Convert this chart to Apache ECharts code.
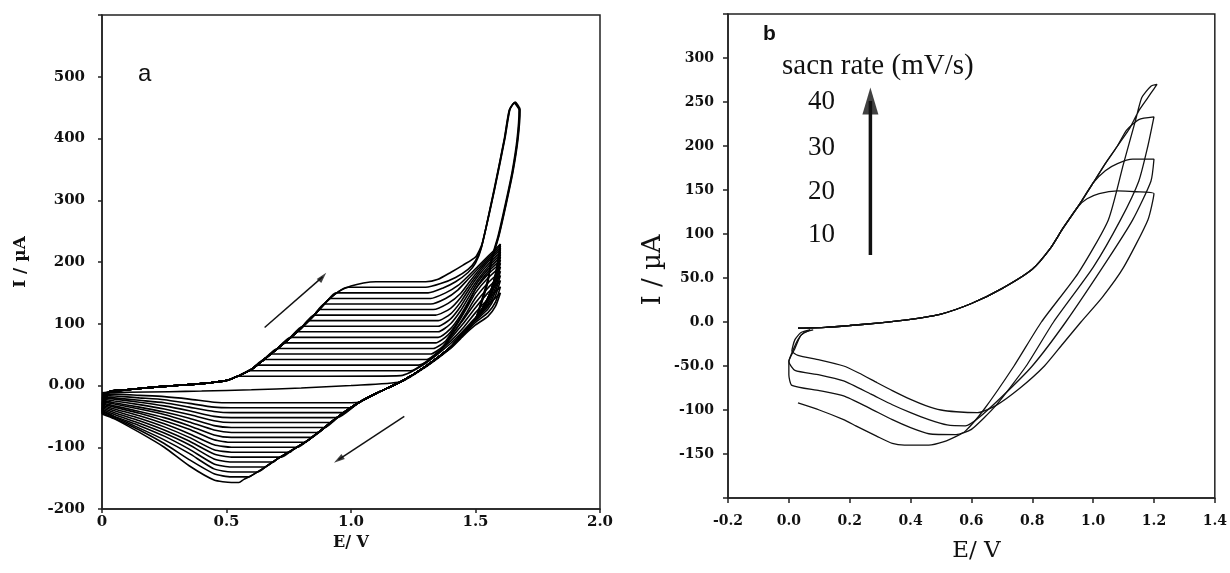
<!DOCTYPE html>
<html>
<head>
<meta charset="utf-8">
<script src="https://cdn.jsdelivr.net/npm/echarts@6/dist/echarts.min.js"></script>
<style>
  html, body { margin: 0; padding: 0; background: #fff; }
  #chart { width: 1230px; height: 573px; }
</style>
</head>
<body>
<div id="chart"></div>
<script>
// ---------------- panel a : repeated cycles, [E (V), I (uA)] ----------------
const a1 = [[0,-12],[0.03,-10],[0.1,-7],[0.2,-3],[0.3,0],[0.4,3],[0.5,8],[0.545,15],[0.9,15],[1.2,16],[1.3,36],[1.4,68],[1.45,88],[1.5,110],[1.55,130],[1.6,150],[1.58,128],[1.55,112],[1.5,98],[1.45,80],[1.4,60],[1.3,30],[1.2,6],[1.0,0],[0.8,-4],[0.6,-7],[0.4,-9],[0.27,-10],[0.1,-11],[0,-12]];
const a2 = [[0,-14],[0.03,-10],[0.1,-7],[0.2,-3],[0.3,0],[0.4,3],[0.5,8],[0.55,16],[0.59,24],[0.95,24],[1.24,24],[1.3,38],[1.4,72],[1.45,93],[1.5,118],[1.55,140],[1.6,160],[1.58,135],[1.55,118],[1.5,102],[1.45,82],[1.4,61],[1.3,31],[1.2,6],[1.1,-13],[1.04,-26],[1.0,-28],[0.52,-28],[0.45,-27],[0.35,-22],[0.25,-18],[0.15,-16],[0.05,-14],[0,-14]];
const a3 = [[0,-16],[0.03,-10],[0.1,-7],[0.2,-3],[0.3,0],[0.4,3],[0.5,8],[0.55,16],[0.6,26],[0.62,33],[1.27,33],[1.35,52],[1.4,76],[1.45,100],[1.5,126],[1.55,150],[1.6,170],[1.58,145],[1.55,124],[1.5,105],[1.45,84],[1.4,62],[1.3,31],[1.2,6],[1.1,-13],[1.03,-28],[1.0,-36],[0.52,-36],[0.45,-35],[0.35,-29],[0.25,-23],[0.15,-20],[0.05,-17],[0,-16]];
const a4 = [[0,-18],[0.03,-10],[0.1,-7],[0.2,-3],[0.3,0],[0.4,3],[0.5,8],[0.55,16],[0.6,26],[0.65,42],[1.3,42],[1.36,58],[1.4,80],[1.45,106],[1.5,134],[1.55,158],[1.6,178],[1.58,152],[1.55,128],[1.5,107],[1.45,85],[1.4,62],[1.3,31],[1.2,6],[1.1,-13],[1.03,-28],[0.97,-44],[0.52,-44],[0.45,-42],[0.35,-35],[0.25,-28],[0.15,-24],[0.05,-20],[0,-18]];
const a5 = [[0,-20],[0.03,-10],[0.1,-7],[0.2,-3],[0.3,0],[0.4,3],[0.5,8],[0.55,16],[0.6,26],[0.65,42],[0.678,51],[1.32,51],[1.37,64],[1.42,90],[1.46,115],[1.5,142],[1.55,166],[1.6,185],[1.58,158],[1.55,132],[1.5,108],[1.45,85],[1.4,62],[1.3,31],[1.2,6],[1.1,-13],[1.03,-28],[0.945,-52],[0.52,-52],[0.45,-50],[0.35,-41],[0.25,-33],[0.15,-27],[0.05,-22],[0,-20]];
const a6 = [[0,-22],[0.03,-10],[0.1,-7],[0.2,-3],[0.3,0],[0.4,3],[0.5,8],[0.55,16],[0.6,26],[0.65,42],[0.705,60],[1.33,60],[1.38,72],[1.42,95],[1.46,122],[1.5,150],[1.55,174],[1.6,192],[1.58,164],[1.55,136],[1.5,108],[1.45,85],[1.4,62],[1.3,31],[1.2,6],[1.1,-13],[1.03,-28],[0.95,-50],[0.92,-60],[0.52,-60],[0.45,-57],[0.35,-47],[0.25,-38],[0.15,-31],[0.05,-25],[0,-22]];
const a7 = [[0,-24],[0.03,-10],[0.1,-7],[0.2,-3],[0.3,0],[0.4,3],[0.5,8],[0.55,16],[0.6,26],[0.65,42],[0.7,58],[0.732,69],[1.34,69],[1.39,82],[1.43,104],[1.47,132],[1.5,156],[1.55,180],[1.6,198],[1.58,168],[1.55,138],[1.5,108],[1.45,85],[1.4,62],[1.3,31],[1.2,6],[1.1,-13],[1.03,-28],[0.95,-50],[0.895,-68],[0.52,-68],[0.45,-65],[0.35,-53],[0.25,-43],[0.15,-35],[0.05,-28],[0,-24]];
const a8 = [[0,-26],[0.03,-10],[0.1,-7],[0.2,-3],[0.3,0],[0.4,3],[0.5,8],[0.55,16],[0.6,26],[0.65,42],[0.7,58],[0.758,78],[1.35,78],[1.4,92],[1.44,114],[1.48,142],[1.51,163],[1.55,184],[1.6,203],[1.58,171],[1.55,140],[1.5,108],[1.45,85],[1.4,62],[1.3,31],[1.2,6],[1.1,-13],[1.03,-28],[0.95,-50],[0.9,-66],[0.87,-76],[0.52,-76],[0.45,-72],[0.35,-59],[0.25,-47],[0.15,-38],[0.05,-30],[0,-26]];
const a9 = [[0,-28],[0.03,-10],[0.1,-7],[0.2,-3],[0.3,0],[0.4,3],[0.5,8],[0.55,16],[0.6,26],[0.65,42],[0.7,58],[0.75,75],[0.785,87],[1.35,87],[1.4,100],[1.44,121],[1.48,148],[1.51,168],[1.55,188],[1.6,208],[1.58,173],[1.55,140],[1.5,108],[1.45,85],[1.4,62],[1.3,31],[1.2,6],[1.1,-13],[1.03,-28],[0.95,-50],[0.9,-66],[0.84,-84],[0.52,-84],[0.45,-80],[0.35,-65],[0.25,-52],[0.15,-42],[0.05,-33],[0,-28]];
const a10 = [[0,-30],[0.03,-10],[0.1,-7],[0.2,-3],[0.3,0],[0.4,3],[0.5,8],[0.55,16],[0.6,26],[0.65,42],[0.7,58],[0.75,75],[0.807,96],[1.35,96],[1.4,108],[1.44,128],[1.48,154],[1.51,172],[1.55,192],[1.6,212],[1.58,175],[1.55,140],[1.5,108],[1.45,85],[1.4,62],[1.3,31],[1.2,6],[1.1,-13],[1.03,-28],[0.95,-50],[0.9,-66],[0.83,-88],[0.815,-92],[0.52,-92],[0.45,-88],[0.35,-71],[0.25,-57],[0.15,-45],[0.05,-35],[0,-30]];
const a11 = [[0,-32],[0.03,-10],[0.1,-7],[0.2,-3],[0.3,0],[0.4,3],[0.5,8],[0.55,16],[0.6,26],[0.65,42],[0.7,58],[0.75,75],[0.8,93],[0.83,105],[1.35,105],[1.4,116],[1.44,135],[1.48,160],[1.51,177],[1.55,196],[1.6,216],[1.58,176],[1.55,141],[1.5,108],[1.45,85],[1.4,62],[1.3,31],[1.2,6],[1.1,-13],[1.03,-28],[0.95,-50],[0.9,-66],[0.83,-88],[0.785,-100],[0.52,-100],[0.45,-96],[0.35,-78],[0.25,-62],[0.15,-49],[0.05,-38],[0,-32]];
const a12 = [[0,-34],[0.03,-10],[0.1,-7],[0.2,-3],[0.3,0],[0.4,3],[0.5,8],[0.55,16],[0.6,26],[0.65,42],[0.7,58],[0.75,75],[0.8,93],[0.853,114],[1.34,114],[1.4,125],[1.44,142],[1.48,165],[1.51,181],[1.55,200],[1.6,220],[1.58,177],[1.55,141],[1.5,108],[1.45,85],[1.4,62],[1.3,31],[1.2,6],[1.1,-13],[1.03,-28],[0.95,-50],[0.9,-66],[0.83,-88],[0.77,-103],[0.755,-108],[0.52,-108],[0.45,-104],[0.35,-84],[0.25,-67],[0.15,-53],[0.05,-41],[0,-34]];
const a13 = [[0,-36],[0.03,-10],[0.1,-7],[0.2,-3],[0.3,0],[0.4,3],[0.5,8],[0.55,16],[0.6,26],[0.65,42],[0.7,58],[0.75,75],[0.8,93],[0.85,113],[0.873,123],[1.33,123],[1.39,133],[1.44,149],[1.48,170],[1.51,185],[1.55,203],[1.6,223],[1.58,178],[1.55,142],[1.5,108],[1.45,85],[1.4,62],[1.3,31],[1.2,6],[1.1,-13],[1.03,-28],[0.95,-50],[0.9,-66],[0.83,-88],[0.77,-103],[0.72,-116],[0.52,-116],[0.45,-111],[0.35,-90],[0.25,-72],[0.15,-57],[0.05,-44],[0,-36]];
const a14 = [[0,-38],[0.03,-10],[0.1,-7],[0.2,-3],[0.3,0],[0.4,3],[0.5,8],[0.55,16],[0.6,26],[0.65,42],[0.7,58],[0.75,75],[0.8,93],[0.85,113],[0.893,132],[1.32,132],[1.38,141],[1.43,155],[1.47,172],[1.51,189],[1.55,206],[1.6,226],[1.58,179],[1.55,142],[1.5,108],[1.45,85],[1.4,62],[1.3,31],[1.2,6],[1.1,-13],[1.03,-28],[0.95,-50],[0.9,-66],[0.83,-88],[0.77,-103],[0.7,-120],[0.69,-124],[0.52,-124],[0.45,-119],[0.35,-96],[0.25,-77],[0.15,-61],[0.05,-47],[0,-38]];
const a15 = [[0,-40],[0.03,-10],[0.1,-7],[0.2,-3],[0.3,0],[0.4,3],[0.5,8],[0.55,16],[0.6,26],[0.65,42],[0.7,58],[0.75,75],[0.8,93],[0.85,113],[0.9,135],[0.915,141],[1.32,141],[1.38,150],[1.43,162],[1.47,177],[1.51,193],[1.55,209],[1.6,229],[1.58,180],[1.55,142],[1.5,108],[1.45,85],[1.4,62],[1.3,31],[1.2,6],[1.1,-13],[1.03,-28],[0.95,-50],[0.9,-66],[0.83,-88],[0.77,-103],[0.7,-120],[0.66,-131],[0.655,-132],[0.52,-132],[0.45,-127],[0.35,-103],[0.25,-82],[0.15,-65],[0.05,-50],[0,-40]];
const a16 = [[0,-42],[0.03,-10],[0.1,-7],[0.2,-3],[0.3,0],[0.4,3],[0.5,8],[0.55,16],[0.6,26],[0.65,42],[0.7,58],[0.75,75],[0.8,93],[0.85,113],[0.9,135],[0.94,150],[1.31,150],[1.37,158],[1.42,168],[1.47,183],[1.5,198],[1.523,222],[1.575,318],[1.615,398],[1.635,445],[1.655,457],[1.675,446],[1.667,399],[1.647,346],[1.62,294],[1.59,241],[1.563,204],[1.55,168],[1.52,128],[1.5,108],[1.45,85],[1.4,62],[1.3,31],[1.2,6],[1.1,-13],[1.03,-28],[0.95,-50],[0.9,-66],[0.83,-88],[0.77,-103],[0.7,-120],[0.66,-131],[0.625,-140],[0.52,-140],[0.45,-135],[0.35,-110],[0.25,-88],[0.15,-69],[0.05,-51],[0,-42]];
const a17 = [[0,-44],[0.03,-10],[0.1,-7],[0.2,-3],[0.3,0],[0.4,3],[0.5,8],[0.55,16],[0.6,26],[0.65,42],[0.7,58],[0.75,75],[0.8,93],[0.85,113],[0.9,135],[0.95,152],[0.988,159],[1.3,159],[1.36,165],[1.42,175],[1.47,188],[1.5,202],[1.525,226],[1.577,320],[1.617,400],[1.637,447],[1.657,458],[1.677,446],[1.669,399],[1.649,346],[1.622,294],[1.592,241],[1.565,204],[1.55,170],[1.52,130],[1.5,108],[1.45,85],[1.4,62],[1.3,31],[1.2,6],[1.1,-13],[1.03,-28],[0.95,-50],[0.9,-66],[0.83,-88],[0.77,-103],[0.7,-120],[0.66,-131],[0.6,-146],[0.59,-148],[0.52,-148],[0.45,-143],[0.35,-120],[0.25,-94],[0.15,-72],[0.05,-53],[0,-44]];
const a18 = [[0,-46],[0.03,-10],[0.1,-7],[0.2,-3],[0.3,0],[0.4,3],[0.5,8],[0.55,16],[0.6,26],[0.65,42],[0.7,58],[0.75,75],[0.8,93],[0.85,113],[0.9,135],[0.95,152],[1.0,161],[1.05,166],[1.1,168],[1.3,168],[1.35,172],[1.4,183],[1.45,195],[1.5,208],[1.527,230],[1.579,322],[1.619,402],[1.639,448],[1.659,459],[1.679,447],[1.671,400],[1.651,347],[1.624,295],[1.594,242],[1.567,205],[1.55,172],[1.52,132],[1.5,108],[1.45,85],[1.4,62],[1.3,31],[1.2,6],[1.1,-13],[1.03,-28],[0.95,-50],[0.9,-66],[0.83,-88],[0.77,-103],[0.7,-120],[0.66,-131],[0.6,-146],[0.57,-152],[0.55,-157],[0.52,-157],[0.45,-153],[0.35,-130],[0.25,-100],[0.15,-76],[0.05,-54],[0,-46]];
const cyclesA = [a1, a2, a3, a4, a5, a6, a7, a8, a9, a10, a11, a12, a13, a14, a15, a16, a17, a18];

// scan direction arrows of panel a, [from, to]
const arrowUpA = [[0.653, 94], [0.886, 176]];
const arrowDownA = [[1.214, -50], [0.95, -120]];

// ---------------- panel b : scan rates 10..40 mV/s ----------------
const b10 = [[0.03,-7],[0.12,-6],[0.2,-4],[0.3,-1],[0.4,3],[0.5,9],[0.6,21],[0.7,38],[0.8,60],[0.86,84],[0.9,106],[0.95,131],[0.98,140],[1.02,146],[1.08,149],[1.14,148],[1.2,146],[1.18,116],[1.1,62],[1.03,28],[0.96,0],[0.9,-25],[0.84,-50],[0.76,-75],[0.68,-95],[0.62,-103],[0.55,-102],[0.5,-100],[0.45,-95],[0.4,-88],[0.34,-78],[0.29,-69],[0.23,-58],[0.18,-50],[0.1,-43],[0.03,-38],[0.01,-33],[0.02,-20],[0.04,-12],[0.07,-9]];
const b20 = [[0.03,-7],[0.12,-6],[0.2,-4],[0.3,-1],[0.4,3],[0.5,9],[0.6,21],[0.7,38],[0.8,60],[0.86,84],[0.9,106],[0.95,131],[1.0,158],[1.04,172],[1.08,180],[1.13,185],[1.2,185],[1.19,160],[1.13,116],[1.05,72],[0.91,0],[0.8,-50],[0.7,-85],[0.62,-110],[0.58,-118],[0.52,-117],[0.46,-111],[0.4,-103],[0.34,-94],[0.27,-82],[0.18,-67],[0.1,-60],[0.02,-55],[0.0,-45],[0.01,-35],[0.03,-20],[0.05,-12],[0.08,-9]];
const b30 = [[0.03,-7],[0.12,-6],[0.2,-4],[0.3,-1],[0.4,3],[0.5,9],[0.6,21],[0.7,38],[0.8,60],[0.86,84],[0.9,106],[0.95,131],[1.0,158],[1.04,180],[1.08,200],[1.11,218],[1.15,230],[1.2,233],[1.18,200],[1.15,160],[1.09,116],[1.0,62],[0.87,0],[0.78,-50],[0.68,-95],[0.6,-122],[0.55,-128],[0.46,-127],[0.4,-120],[0.34,-111],[0.26,-97],[0.18,-84],[0.1,-78],[0.01,-72],[0.0,-60],[0.0,-45],[0.02,-30],[0.04,-15],[0.07,-9]];
const b40 = [[0.03,-7],[0.12,-6],[0.2,-4],[0.3,-1],[0.4,3],[0.5,9],[0.6,21],[0.7,38],[0.8,60],[0.86,84],[0.9,106],[0.95,131],[1.0,158],[1.04,180],[1.08,200],[1.12,220],[1.15,240],[1.18,255],[1.2,265],[1.21,270],[1.19,268],[1.16,255],[1.14,230],[1.1,180],[1.05,116],[0.95,55],[0.83,0],[0.74,-50],[0.64,-100],[0.58,-124],[0.55,-130],[0.51,-136],[0.46,-140],[0.38,-140],[0.34,-138],[0.29,-130],[0.22,-118],[0.18,-111],[0.1,-100],[0.03,-92]];
const cyclesB = [b10, b20, b30, b40];
const rateLabels = ['40', '30', '20', '10'];
const arrowB = [[0.268, 76], [0.268, 251]];

// tick labels
const xTicksA = ['0', '0.5', '1.0', '1.5', '2.0'];
const serif = '"Liberation Serif", "DejaVu Serif", serif';
const wideSerif = '"DejaVu Serif", serif';

let chart = echarts.init(document.getElementById('chart'));

let series = [];
cyclesA.forEach(function (c) {
	series.push({
		type: 'line', xAxisIndex: 0, yAxisIndex: 0, data: c,
		symbol: 'none', smooth: 0.2, silent: true,
		lineStyle: { color: '#000', width: 1.6 }
	});
});
cyclesB.forEach(function (c) {
	series.push({
		type: 'line', xAxisIndex: 1, yAxisIndex: 1, data: c,
		symbol: 'none', smooth: 0.2, silent: true,
		lineStyle: { color: '#111', width: 1.3 }
	});
});

// arrows: a line series of two points plus a rotated head at the end point
function arrowSeries(xi, pair, width, head, rot) {
	return [{
		type: 'line', xAxisIndex: xi, yAxisIndex: xi, data: pair,
		symbol: 'none', silent: true, lineStyle: { color: '#111', width: width }
	}, {
		type: 'scatter', xAxisIndex: xi, yAxisIndex: xi, data: [pair[1]],
		symbol: 'triangle', symbolSize: head, symbolRotate: rot, silent: true,
		itemStyle: { color: '#111' }
	}];
}
series = series.concat(arrowSeries(0, arrowUpA, 1.5, [6, 11], -41));
series = series.concat(arrowSeries(0, arrowDownA, 1.5, [6, 11], 124));
series = series.concat(arrowSeries(1, arrowB, 3.5, [16, 27], 0));

let axisLineStyle = { color: '#222', width: 1.5 };

let option = {
	animation: false,
	backgroundColor: '#fff',
	grid: [
		{ left: 102, right: 630, top: 15, bottom: 64, show: true, borderColor: '#222', borderWidth: 1.5 },
		{ left: 728, right: 14, top: 14, bottom: 75, show: true, borderColor: '#222', borderWidth: 1.5 }
	],
	xAxis: [{
		type: 'value', gridIndex: 0, min: 0, max: 2, interval: 0.5,
		name: 'E/ V', nameLocation: 'middle', nameGap: 26,
		nameTextStyle: { fontFamily: wideSerif, fontWeight: 'bold', fontSize: 16, color: '#111' },
		axisLine: { onZero: false, lineStyle: axisLineStyle },
		axisTick: { length: 4, lineStyle: axisLineStyle },
		splitLine: { show: false },
		axisLabel: {
			margin: 6, fontFamily: wideSerif, fontWeight: 'bold', fontSize: 15, color: '#111',
			formatter: function (v) { return xTicksA[Math.round(v / 0.5)]; }
		}
	}, {
		type: 'value', gridIndex: 1, min: -0.2, max: 1.4, interval: 0.2,
		name: 'E/ V', nameLocation: 'middle', nameGap: 42,
		nameTextStyle: { fontFamily: wideSerif, fontSize: 23, color: '#111', padding: [0, 0, 0, 10] },
		axisLine: { onZero: false, lineStyle: axisLineStyle },
		axisTick: { length: 5, lineStyle: axisLineStyle },
		splitLine: { show: false },
		axisLabel: {
			margin: 16, fontFamily: wideSerif, fontWeight: 'bold', fontSize: 14, color: '#111',
			formatter: function (v) { return v.toFixed(1); }
		}
	}],
	yAxis: [{
		type: 'value', gridIndex: 0, min: -200, max: 600, interval: 100,
		name: 'I / \u00b5A', nameLocation: 'middle', nameGap: 73, nameRotate: 90,
		nameTextStyle: { fontFamily: wideSerif, fontWeight: 'bold', fontSize: 17, color: '#111' },
		axisLine: { onZero: false, lineStyle: axisLineStyle },
		axisTick: { length: 4, lineStyle: axisLineStyle },
		splitLine: { show: false },
		axisLabel: {
			margin: 17, fontFamily: wideSerif, fontWeight: 'bold', fontSize: 15, color: '#111',
			formatter: function (v) {
				if (v === 600) return '';
				if (v === 0) return '0.00';
				return String(v);
			}
		}
	}, {
		type: 'value', gridIndex: 1, min: -200, max: 350, interval: 50,
		name: 'I / \u00b5A', nameLocation: 'middle', nameGap: 62, nameRotate: 90,
		nameTextStyle: { fontFamily: wideSerif, fontSize: 26, color: '#111', padding: [0, 28, 0, 0] },
		axisLine: { onZero: false, lineStyle: axisLineStyle },
		axisTick: { length: 5, lineStyle: axisLineStyle },
		splitLine: { show: false },
		axisLabel: {
			margin: 14, fontFamily: wideSerif, fontWeight: 'bold', fontSize: 14, color: '#111',
			formatter: function (v) {
				if (v === 350 || v === -200) return '';
				if (Math.abs(v) < 100) return v.toFixed(1);
				return String(v);
			}
		}
	}],
	graphic: [
		{ type: 'text', left: 138, top: 62, style: { text: 'a', font: '24px "Liberation Sans", sans-serif', fill: '#111' } },
		{ type: 'text', left: 763, top: 24, style: { text: 'b', font: 'bold 21px "Liberation Sans", sans-serif', fill: '#111' } },
		{ type: 'text', left: 782, top: 52, style: { text: 'sacn rate (mV/s)', font: '29px ' + serif, fill: '#111' } },
		{ type: 'text', left: 808, top: 88, style: { text: rateLabels[0], font: '27px ' + serif, fill: '#111' } },
		{ type: 'text', left: 808, top: 134, style: { text: rateLabels[1], font: '27px ' + serif, fill: '#111' } },
		{ type: 'text', left: 808, top: 178, style: { text: rateLabels[2], font: '27px ' + serif, fill: '#111' } },
		{ type: 'text', left: 808, top: 221, style: { text: rateLabels[3], font: '27px ' + serif, fill: '#111' } }
	],
	series: series
};

chart.setOption(option);
</script>
</body>
</html>
